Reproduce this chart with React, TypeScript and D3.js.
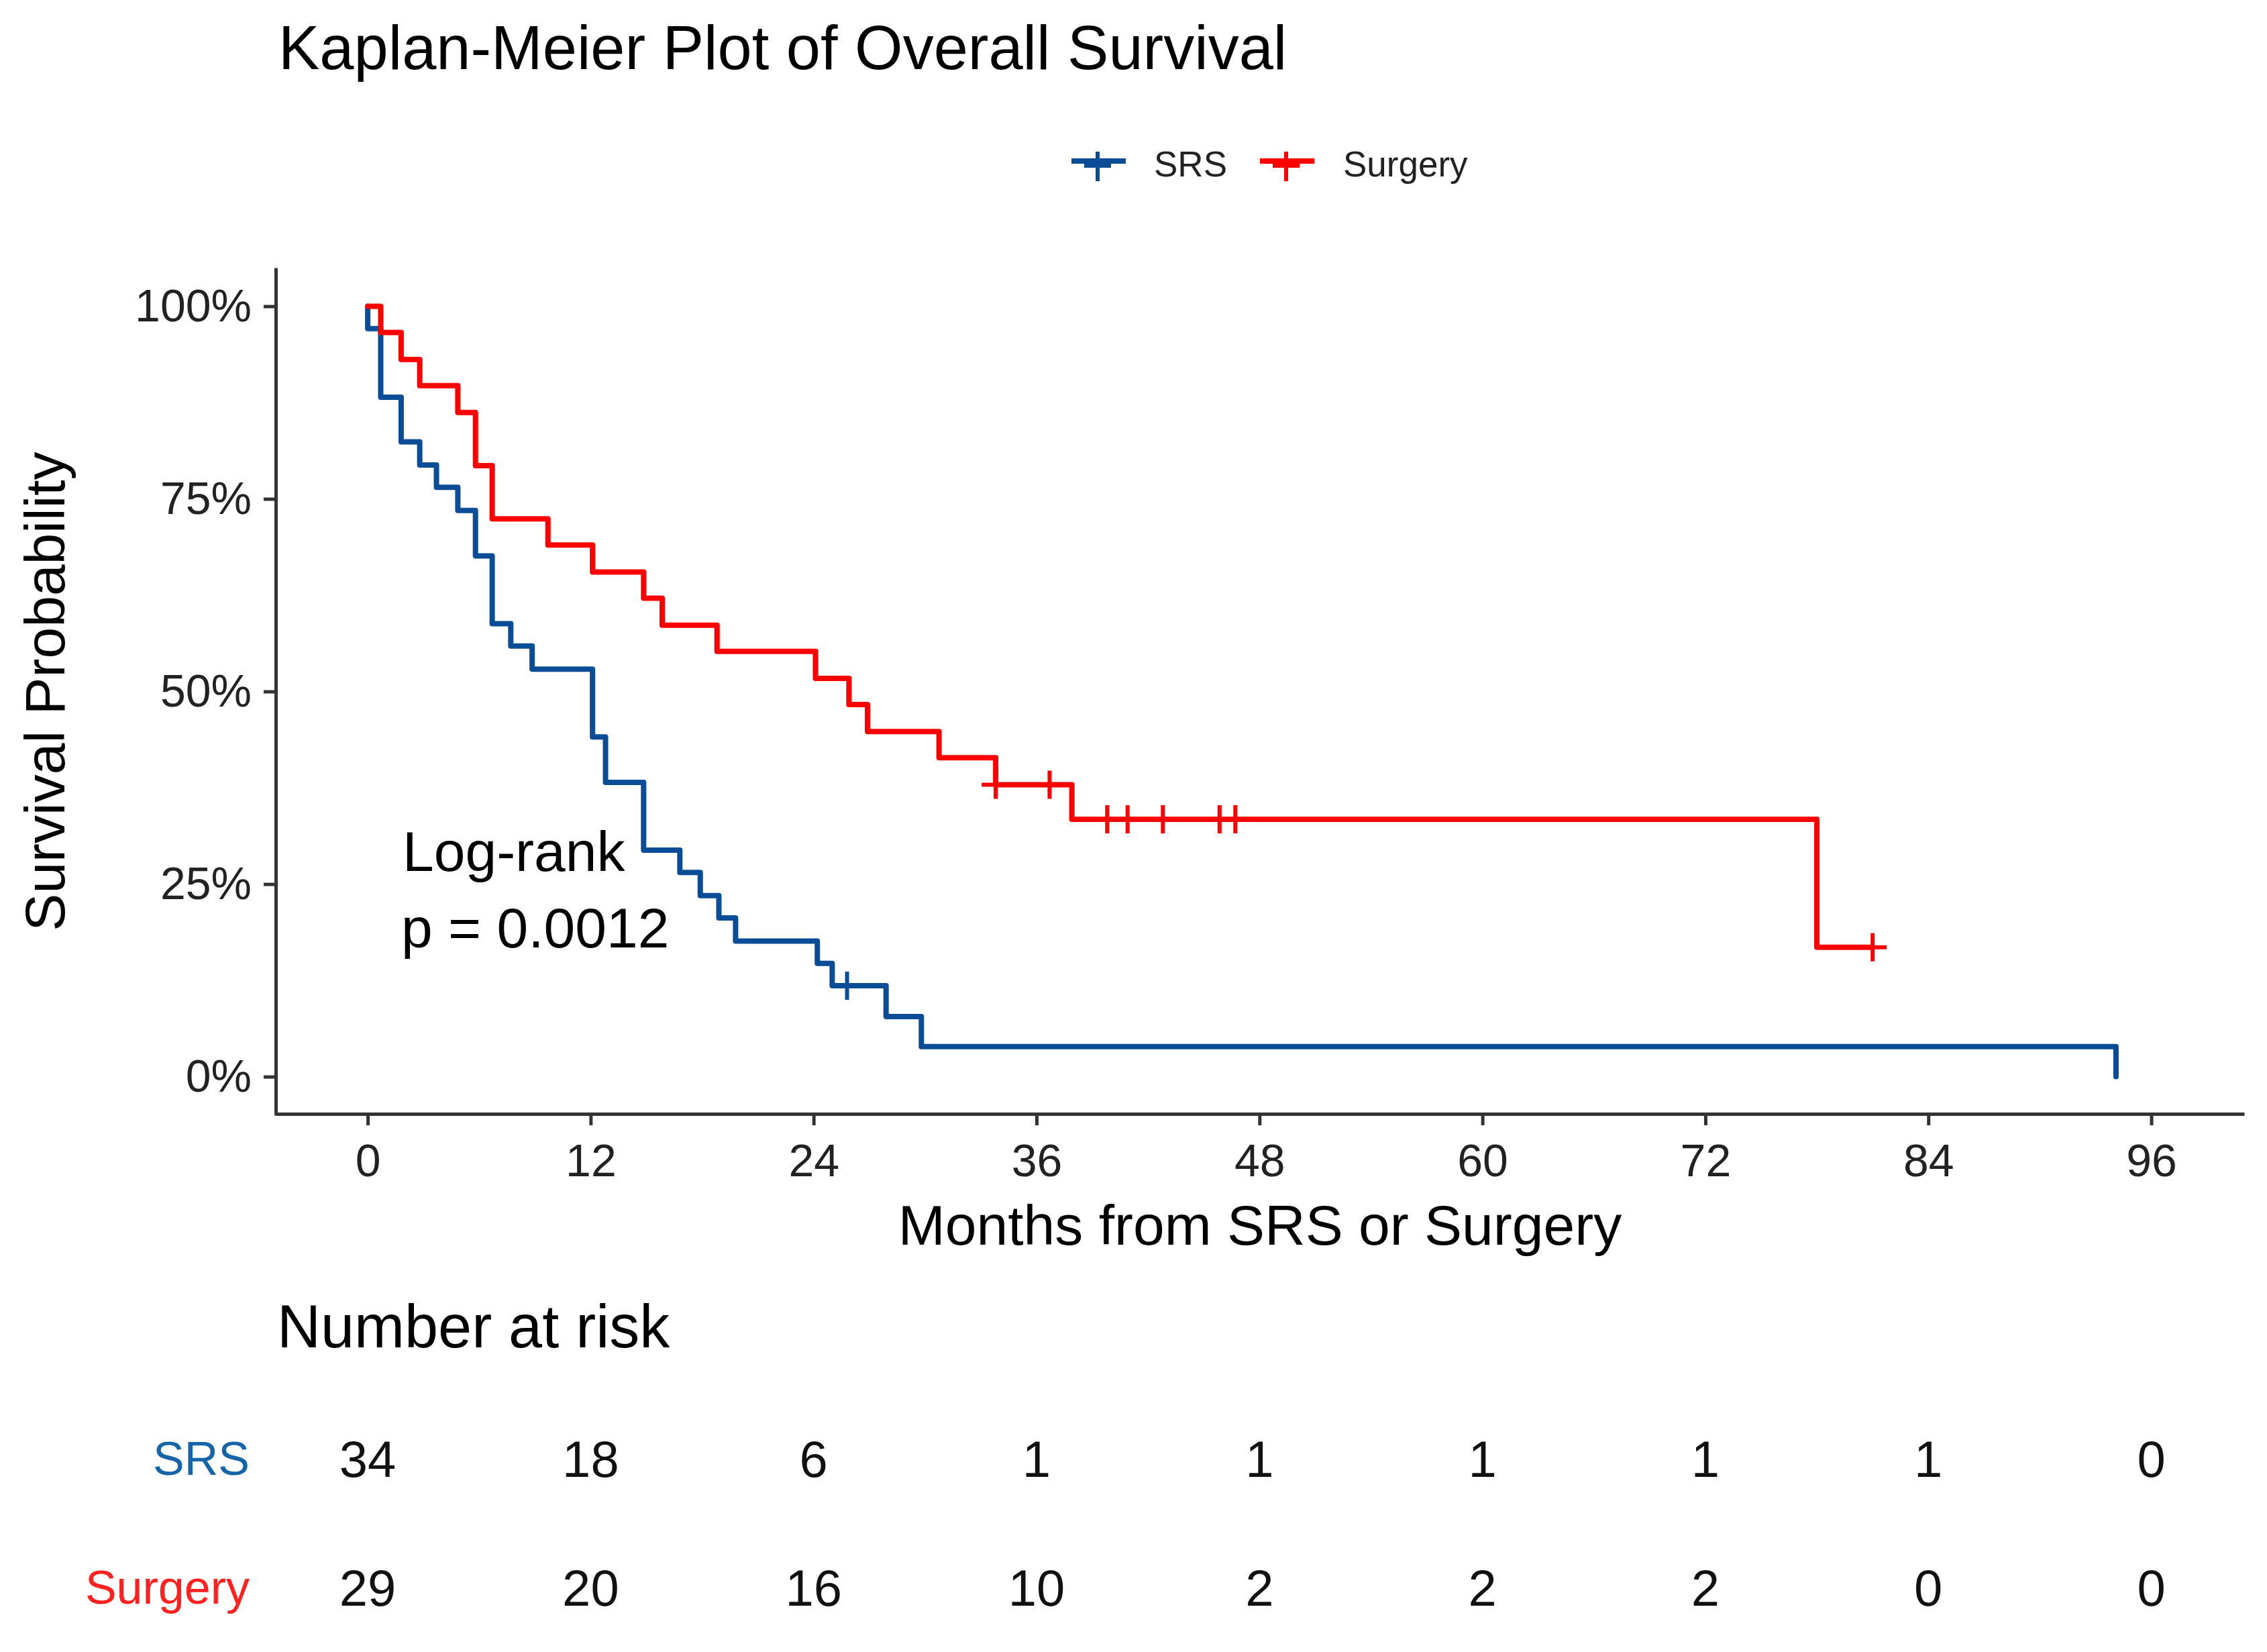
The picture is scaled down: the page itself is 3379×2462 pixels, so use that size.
import React, { useRef, useEffect } from 'react';
import * as d3 from 'd3';

// SRS arm: step times (months) and survival (%) after each step
const srsTimes = [0, 0, 0.7, 1.8, 2.8, 3.7, 4.85, 5.8, 6.7, 7.7, 8.85, 12.1, 12.8, 14.85, 16.8, 17.9, 18.9, 19.8, 24.2, 25.0, 27.9, 29.8, 94.1];
const srsSurv = [100, 97.1, 88.2, 82.4, 79.4, 76.5, 73.5, 67.6, 58.8, 55.9, 52.9, 44.1, 38.2, 29.4, 26.5, 23.5, 20.6, 17.6, 14.7, 11.8, 7.8, 3.9, 0];
const srsCensorTimes = [25.8];
const srsCensorSurv = [11.8];

// Surgery arm
const surgTimes = [0, 0.7, 1.8, 2.8, 4.85, 5.8, 6.7, 9.7, 12.1, 14.85, 15.85, 18.8, 24.1, 25.9, 26.9, 30.75, 33.8, 37.9, 78.0, 81.0];
const surgSurv = [100, 96.6, 93.1, 89.7, 86.2, 79.3, 72.4, 69.0, 65.5, 62.1, 58.6, 55.2, 51.7, 48.3, 44.8, 41.4, 37.9, 33.4, 16.8, 16.8];
const surgCensorTimes = [33.8, 36.7, 39.8, 40.9, 42.8, 45.85, 46.7, 81.0];
const surgCensorSurv = [37.9, 37.9, 33.4, 33.4, 33.4, 33.4, 33.4, 16.8];

const xTicks = [0, 12, 24, 36, 48, 60, 72, 84, 96];
const yTicks = [0, 25, 50, 75, 100];
const riskSRS = [34, 18, 6, 1, 1, 1, 1, 1, 0];
const riskSurgery = [29, 20, 16, 10, 2, 2, 2, 0, 0];

const BLUE = '#0a4d96';
const RED = '#ff0000';
const FONT = '"Liberation Sans", Arial, sans-serif';

const App: React.FC = () => {
  const svgRef = useRef<SVGSVGElement>(null);
  const width = 3379;
  const height = 2462;

  useEffect(() => {
    if (!svgRef.current) return;
    const svg = d3.select(svgRef.current);
    svg.selectAll('*').remove();

    const x = d3.scaleLinear().domain([-4.95, 101]).range([411, 3345]);
    const y = d3.scaleLinear().domain([-5, 105]).range([1662, 399]);

    svg.append('rect').attr('width', width).attr('height', height).attr('fill', '#fff');

    // Title
    svg.append('text')
      .attr('x', 415).attr('y', 103)
      .attr('font-family', FONT).attr('font-size', 92)
      .attr('fill', '#000')
      .text('Kaplan-Meier Plot of Overall Survival');

    // Legend
    const legend = svg.append('g');
    const legendItems = [
      { label: 'SRS', color: BLUE, x0: 1597, tx: 1720 },
      { label: 'Surgery', color: RED, x0: 1878, tx: 2002 },
    ];
    legendItems.forEach(it => {
      legend.append('line')
        .attr('x1', it.x0).attr('x2', it.x0 + 81)
        .attr('y1', 240).attr('y2', 240)
        .attr('stroke', it.color).attr('stroke-width', 8);
      legend.append('path')
        .attr('d', `M${it.x0 + 19},247H${it.x0 + 59}M${it.x0 + 39},226V270`)
        .attr('stroke', it.color).attr('stroke-width', 6);
      legend.append('text')
        .attr('x', it.tx).attr('y', 263)
        .attr('font-family', FONT).attr('font-size', 53)
        .attr('fill', '#222')
        .text(it.label);
    });

    // Axes
    const xAxis = svg.append('g')
      .attr('transform', `translate(0,${y(-5) - 2})`)
      .call(d3.axisBottom(x).tickValues(xTicks).tickSize(17).tickSizeOuter(0).tickPadding(28));
    const yAxis = svg.append('g')
      .attr('transform', `translate(${x(-4.95)},0)`)
      .call(d3.axisLeft(y).tickValues(yTicks).tickSize(18).tickSizeOuter(0).tickPadding(18)
        .tickFormat(d => `${d}%`));
    [xAxis, yAxis].forEach(ax => {
      ax.attr('color', '#333');
      ax.selectAll('path,line').attr('stroke-width', 5);
      ax.selectAll('text')
        .attr('font-family', FONT).attr('font-size', 68).attr('fill', '#222');
    });

    // Axis titles
    svg.append('text')
      .attr('x', (411 + 3345) / 2).attr('y', 1855)
      .attr('text-anchor', 'middle')
      .attr('font-family', FONT).attr('font-size', 84)
      .text('Months from SRS or Surgery');
    svg.append('text')
      .attr('transform', `translate(96,${(399 + 1662) / 2}) rotate(-90)`)
      .attr('text-anchor', 'middle')
      .attr('font-family', FONT).attr('font-size', 84)
      .text('Survival Probability');

    // Curves
    const line = d3.line<[number, number]>()
      .x(d => x(d[0]))
      .y(d => y(d[1]))
      .curve(d3.curveStepAfter);

    const curves = [
      { times: srsTimes, surv: srsSurv, color: BLUE, ct: srsCensorTimes, cs: srsCensorSurv },
      { times: surgTimes, surv: surgSurv, color: RED, ct: surgCensorTimes, cs: surgCensorSurv },
    ];
    curves.forEach(c => {
      const pts = c.times.map((t, i) => [t, c.surv[i]] as [number, number]);
      svg.append('path')
        .attr('d', line(pts))
        .attr('fill', 'none')
        .attr('stroke', c.color)
        .attr('stroke-width', 8)
        .attr('stroke-linejoin', 'round')
        .attr('stroke-linecap', 'round');
      c.ct.forEach((t, i) => {
        const cx = x(t);
        const cy = y(c.cs[i]);
        svg.append('path')
          .attr('d', `M${cx - 21},${cy}H${cx + 21}M${cx},${cy - 21}V${cy + 21}`)
          .attr('stroke', c.color)
          .attr('stroke-width', 6);
      });
    });

    // Log-rank annotation
    svg.append('text')
      .attr('x', 600).attr('y', 1298)
      .attr('font-family', FONT).attr('font-size', 84)
      .text('Log-rank');
    svg.append('text')
      .attr('x', 598).attr('y', 1412)
      .attr('font-family', FONT).attr('font-size', 84)
      .text('p = 0.0012');

    // Number at risk table
    svg.append('text')
      .attr('x', 413).attr('y', 2008)
      .attr('font-family', FONT).attr('font-size', 90)
      .text('Number at risk');

    const rows = [
      { label: 'SRS', values: riskSRS, color: '#1565a8', yPos: 2198 },
      { label: 'Surgery', values: riskSurgery, color: '#ff2020', yPos: 2390 },
    ];
    rows.forEach(r => {
      svg.append('text')
        .attr('x', 372).attr('y', r.yPos)
        .attr('text-anchor', 'end')
        .attr('font-family', FONT).attr('font-size', 70)
        .attr('fill', r.color)
        .text(r.label);
      svg.selectAll(null)
        .data(r.values)
        .enter()
        .append('text')
        .attr('x', (_, i) => x(xTicks[i]))
        .attr('y', r.yPos + 3)
        .attr('text-anchor', 'middle')
        .attr('font-family', FONT).attr('font-size', 76)
        .attr('fill', '#111')
        .text(d => String(d));
    });
  }, []);

  return (
    <div style={{ position: 'absolute', left: 0, top: 0, background: '#fff' }}>
      <svg ref={svgRef} width={width} height={height} style={{ display: 'block' }} />
    </div>
  );
};

export default App;
